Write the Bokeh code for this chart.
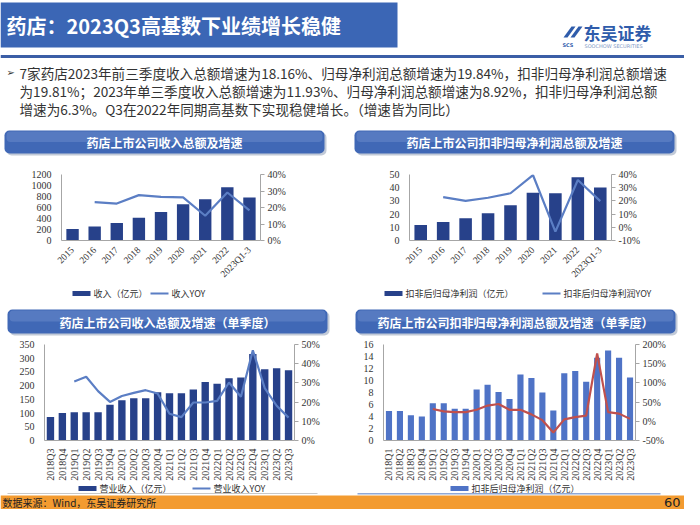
import math
from bokeh.plotting import figure
from bokeh.models import (Range1d, LinearAxis, FactorRange,
                          SingleIntervalTicker, PrintfTickFormatter, BoxAnnotation)
from bokeh.layouts import column, row
from bokeh.embed import file_html
from bokeh.resources import INLINE
from bokeh.core.properties import value

# ---------------- data ----------------
years = ["2015", "2016", "2017", "2018", "2019", "2020", "2021", "2022", "2023Q1-3"]
revenue_annual = [211, 254, 317, 412, 518, 661, 750, 967, 782]
revenue_annual_yoy = [None, 23.3, 22.4, 27.5, 26.4, 26.1, 15.0, 29.1, 18.2]
profit_annual = [11.8, 14.0, 16.9, 20.7, 26.7, 36.2, 35.8, 48.0, 40.2]
profit_annual_yoy = [None, 22.9, 20.0, 22.4, 25.8, 39.6, -3.3, 35.8, 19.8]

quarters_rev = ["2018Q3", "2018Q4", "2019Q1", "2019Q2", "2019Q3", "2019Q4",
                "2020Q1", "2020Q2", "2020Q3", "2020Q4", "2021Q1", "2021Q2",
                "2021Q3", "2021Q4", "2022Q1", "2022Q2", "2022Q3", "2022Q4",
                "2023Q1", "2023Q2", "2023Q3"]
revenue_q = [86, 100, 103, 103, 103, 130, 147, 154, 154, 176, 172, 172,
             186, 213, 207, 227, 230, 315, 260, 263, 256]
revenue_q_yoy = [None, None, 30.7, 33.2, 25.7, 20.1, 23.2, 24.8, 26.2, 24.5,
                 13.9, 12.2, 19.8, 19.8, 20.6, 30.2, 22.8, 47.0, 27.3, 18.1, 11.9]

quarters_profit = ["2018Q1", "2018Q2", "2018Q3", "2018Q4", "2019Q1", "2019Q2",
                   "2019Q3", "2019Q4", "2020Q1", "2020Q2", "2020Q3", "2020Q4",
                   "2021Q1", "2021Q2", "2021Q3", "2021Q4", "2022Q1", "2022Q2",
                   "2022Q3", "2022Q4", "2023Q1", "2023Q2", "2023Q3"]
profit_q = [4.9, 4.9, 4.2, 4.0, 6.2, 6.2, 5.3, 5.3, 8.5, 9.3, 8.1, 6.9,
            11.0, 10.4, 8.0, 5.0, 11.2, 11.6, 9.8, 13.8, 15.0, 13.8, 10.5]
profit_q_yoy = [None, None, None, None, 32, 26, 24, 24, 30, 41, 45, 30,
                30, 18, 3, -29, 5, 11, 15, 177, 24, 20, 6.3]

page_title = "药店：2023Q3高基数下业绩增长稳健"
bullet_lines = [
    "7家药店2023年前三季度收入总额增速为18.16%、归母净利润总额增速为19.84%，扣非归母净利润总额增速",
    "为19.81%；2023年单三季度收入总额增速为11.93%、归母净利润总额增速为8.92%，扣非归母净利润总额",
    "增速为6.3%。Q3在2022年同期高基数下实现稳健增长。（增速皆为同比）",
]
chart_titles = ["药店上市公司收入总额及增速", "药店上市公司扣非归母净利润总额及增速",
                "药店上市公司收入总额及增速（单季度）", "药店上市公司扣非归母净利润总额及增速（单季度）"]
legend_labels = [["收入（亿元）", "收入YOY"],
                 ["扣非后归母净利润（亿元）", "扣非后归母净利润YOY"],
                 ["营业收入（亿元）", "营业收入YOY"],
                 ["扣非后归母净利润（亿元）"]]
source_text = "数据来源：Wind，东吴证券研究所"
page_no = "60"

CJK = value("Noto Sans CJK SC")
SERIF = "Liberation Serif"
NAVY = "#27418a"
LIGHTBAR = "#4f73c6"
LINEBLUE = "#5b7ec4"
RED = "#c0504d"
BOXBLUE = "#4068b6"


def decor_fig(w, h):
    f = figure(width=w, height=h, x_range=Range1d(0, w), y_range=Range1d(h, 0),
               output_backend="svg", toolbar_location=None, min_border=0,
               x_axis_type=None, y_axis_type=None, outline_line_color=None)
    f.grid.visible = False
    return f


def title_box(f, x0, x1, y0, y1, text):
    f.add_layout(BoxAnnotation(left=x0 + 2, right=x1 + 2, top=y0 + 2, bottom=y1 + 2,
                               fill_color="#9aa6bd", fill_alpha=0.6, line_color=None,
                               border_radius=5, level="underlay"))
    f.add_layout(BoxAnnotation(left=x0, right=x1, top=y0, bottom=y1,
                               fill_color=BOXBLUE, fill_alpha=1, line_color=None,
                               border_radius=5, level="underlay"))
    f.add_layout(BoxAnnotation(left=x0 + 2, right=x1 - 2, top=y0 + 1, bottom=(y0 + y1) / 2,
                               fill_color="#8aa6dc", fill_alpha=0.3, line_color=None,
                               border_radius=4, level="underlay"))
    f.text(x=[(x0 + x1) / 2], y=[(y0 + y1) / 2 + 0.5], text=[text], text_font=CJK,
           text_font_size="12px", text_font_style="bold", text_color="white",
           text_align="center", text_baseline="middle")


def legend_entry(f, kind, x, y, color, label):
    if kind == "bar":
        f.quad(left=[x], right=[x + 18], top=[y - 2.5], bottom=[y + 2.5],
               fill_color=color, line_color=None)
    else:
        f.line(x=[x, x + 18], y=[y, y], line_color=color, line_width=2)
    f.text(x=[x + 21], y=[y], text=[label], text_font=CJK, text_font_size="9px",
           text_color="#333333", text_baseline="middle")


def chart(w, h, cats, bars, bar_color, bar_w, yoy, line_color, yl, yl_step, yr, yr_step,
          borders, orient, lab_size):
    left, right, top, bottom = borders
    p = figure(width=w, height=h, x_range=FactorRange(*cats), y_range=Range1d(*yl),
               output_backend="svg", toolbar_location=None,
               min_border_left=left, min_border_right=right,
               min_border_top=top, min_border_bottom=bottom,
               outline_line_color=None)
    p.grid.visible = False
    p.extra_y_ranges = {"r": Range1d(*yr)}
    p.vbar(x=cats, top=bars, width=bar_w, fill_color=bar_color, line_color=None)
    lx = [c for c, v in zip(cats, yoy) if v is not None]
    ly = [v for v in yoy if v is not None]
    p.line(x=lx, y=ly, y_range_name="r", line_color=line_color, line_width=2.2)

    ax = p.xaxis[0]
    ax.axis_line_color = "#a6a6a6"
    ax.major_tick_line_color = None
    ax.major_label_orientation = orient
    ax.major_label_text_font = SERIF
    ax.major_label_text_font_size = lab_size
    ax.major_label_text_color = "#333333"
    ax.major_label_standoff = 2

    ay = p.yaxis[0]
    ay.ticker = SingleIntervalTicker(interval=yl_step)
    ay.axis_line_color = "#a6a6a6"
    ay.major_tick_line_color = None
    ay.minor_tick_line_color = None
    ay.major_label_text_font = SERIF
    ay.major_label_text_font_size = "10px"
    ay.major_label_text_color = "#333333"
    ay.major_label_standoff = 4

    ra = LinearAxis(y_range_name="r", ticker=SingleIntervalTicker(interval=yr_step),
                    formatter=PrintfTickFormatter(format="%d%%"))
    ra.axis_line_color = "#a6a6a6"
    ra.major_tick_line_color = "#a6a6a6"
    ra.major_tick_out = 4
    ra.major_tick_in = 0
    ra.minor_tick_line_color = None
    ra.major_label_text_font = SERIF
    ra.major_label_text_font_size = "10px"
    ra.major_label_text_color = "#333333"
    ra.major_label_standoff = 3
    p.add_layout(ra, "right")
    return p


# ---------------- header ----------------
hdr = decor_fig(684, 120)
hdr.quad(left=[0], right=[397], top=[2], bottom=[47], fill_color="#3b66b5", line_color=None)
hdr.text(x=[6], y=[25], text=[page_title], text_font=CJK, text_font_size="20px",
         text_font_style="bold", text_color="white", text_baseline="middle")
# logo
hdr.patch(x=[563, 571, 575, 567], y=[37, 26, 26, 37], fill_color="#2f5cab", line_color=None)
hdr.patch(x=[570, 578, 582, 574], y=[37, 26, 26, 37], fill_color="#2f5cab", line_color=None)
hdr.text(x=[562], y=[44], text=["SCS"], text_font=value("DejaVu Sans"), text_font_size="5px",
         text_font_style="bold", text_color="#2f5cab", text_baseline="middle")
hdr.text(x=[583], y=[32], text=["东吴证券"], text_font=CJK, text_font_size="17px",
         text_font_style="bold", text_color="#2f5cab", text_baseline="middle")
hdr.text(x=[584], y=[45], text=["SOOCHOW SECURITIES"], text_font=value("DejaVu Sans"),
         text_font_size="5px", text_color="#7f97c4", text_baseline="middle")
hdr.quad(left=[0], right=[684], top=[54.5], bottom=[57.5], fill_color="#3b5ea6", line_color=None)
hdr.text(x=[6], y=[72], text=["➢"], text_font=value("DejaVu Sans"), text_font_size="10px",
         text_color="#333333", text_baseline="middle")
hdr.text(x=[19, 19, 19], y=[72, 90, 108], text=bullet_lines, text_font=CJK,
         text_font_size="13.6px", text_color="#333333", text_baseline="middle")

# ---------------- title rows ----------------
t1 = decor_fig(342, 37)
title_box(t1, 4, 324, 10, 33, chart_titles[0])
t2 = decor_fig(342, 37)
title_box(t2, 12, 332, 10, 33, chart_titles[1])
t3 = decor_fig(342, 35)
title_box(t3, 7, 327, 7, 31, chart_titles[2])
t4 = decor_fig(342, 35)
title_box(t4, 13, 333, 7, 31, chart_titles[3])

# ---------------- charts ----------------
c1 = chart(342, 128, years, revenue_annual, NAVY, 0.56, revenue_annual_yoy, LINEBLUE,
           (0, 1200), 200, (0, 40), 10, (61, 82, 17, 36), math.pi / 4, "9.5px")
c2 = chart(342, 128, years, profit_annual, NAVY, 0.56, profit_annual_yoy, LINEBLUE,
           (0, 50), 10, (-10, 40), 10, (67, 73, 17, 36), math.pi / 4, "9.5px")
c3 = chart(342, 146, quarters_rev, revenue_q, NAVY, 0.62, revenue_q_yoy, LINEBLUE,
           (0, 350), 50, (0, 50), 10, (44, 48, 7, 41), math.pi / 2, "10px")
c4 = chart(342, 146, quarters_profit, profit_q, LIGHTBAR, 0.56, profit_q_yoy, RED,
           (0, 16), 2, (-50, 200), 50, (41, 49, 7, 41), math.pi / 2, "10px")

# ---------------- legends (row 1) ----------------
l1 = decor_fig(342, 17)
legend_entry(l1, "bar", 72, 8, NAVY, legend_labels[0][0])
legend_entry(l1, "line", 150, 8, LINEBLUE, legend_labels[0][1])
l2 = decor_fig(342, 17)
legend_entry(l2, "bar", 42, 8, NAVY, legend_labels[1][0])
legend_entry(l2, "line", 200, 8, LINEBLUE, legend_labels[1][1])

# ---------------- legends (row 2) + footer ----------------
bt = decor_fig(684, 26)
legend_entry(bt, "bar", 78, 5, NAVY, legend_labels[2][0])
legend_entry(bt, "line", 192, 5, LINEBLUE, legend_labels[2][1])
legend_entry(bt, "bar", 342 + 108, 5, LIGHTBAR, legend_labels[3][0])
bt.quad(left=[7], right=[317], top=[9.5], bottom=[10.5], fill_color="#c8c8c8", line_color=None)
bt.quad(left=[357], right=[660], top=[9.5], bottom=[11], fill_color="#8fa9d8", line_color=None)
bt.quad(left=[0], right=[684], top=[12], bottom=[26], fill_color="#f39b30", line_color=None)
bt.text(x=[2], y=[19.2], text=[source_text], text_font=CJK, text_font_size="10px",
        text_color="#222222", text_baseline="middle")
bt.text(x=[680], y=[19.2], text=[page_no], text_font=value("DejaVu Sans"), text_font_size="13px",
        text_color="#222222", text_align="right", text_baseline="middle")

layout = column(hdr, row(t1, t2), row(c1, c2), row(l1, l2), row(t3, t4), row(c3, c4), bt)
open("out.html", "w").write(file_html(layout, INLINE))
